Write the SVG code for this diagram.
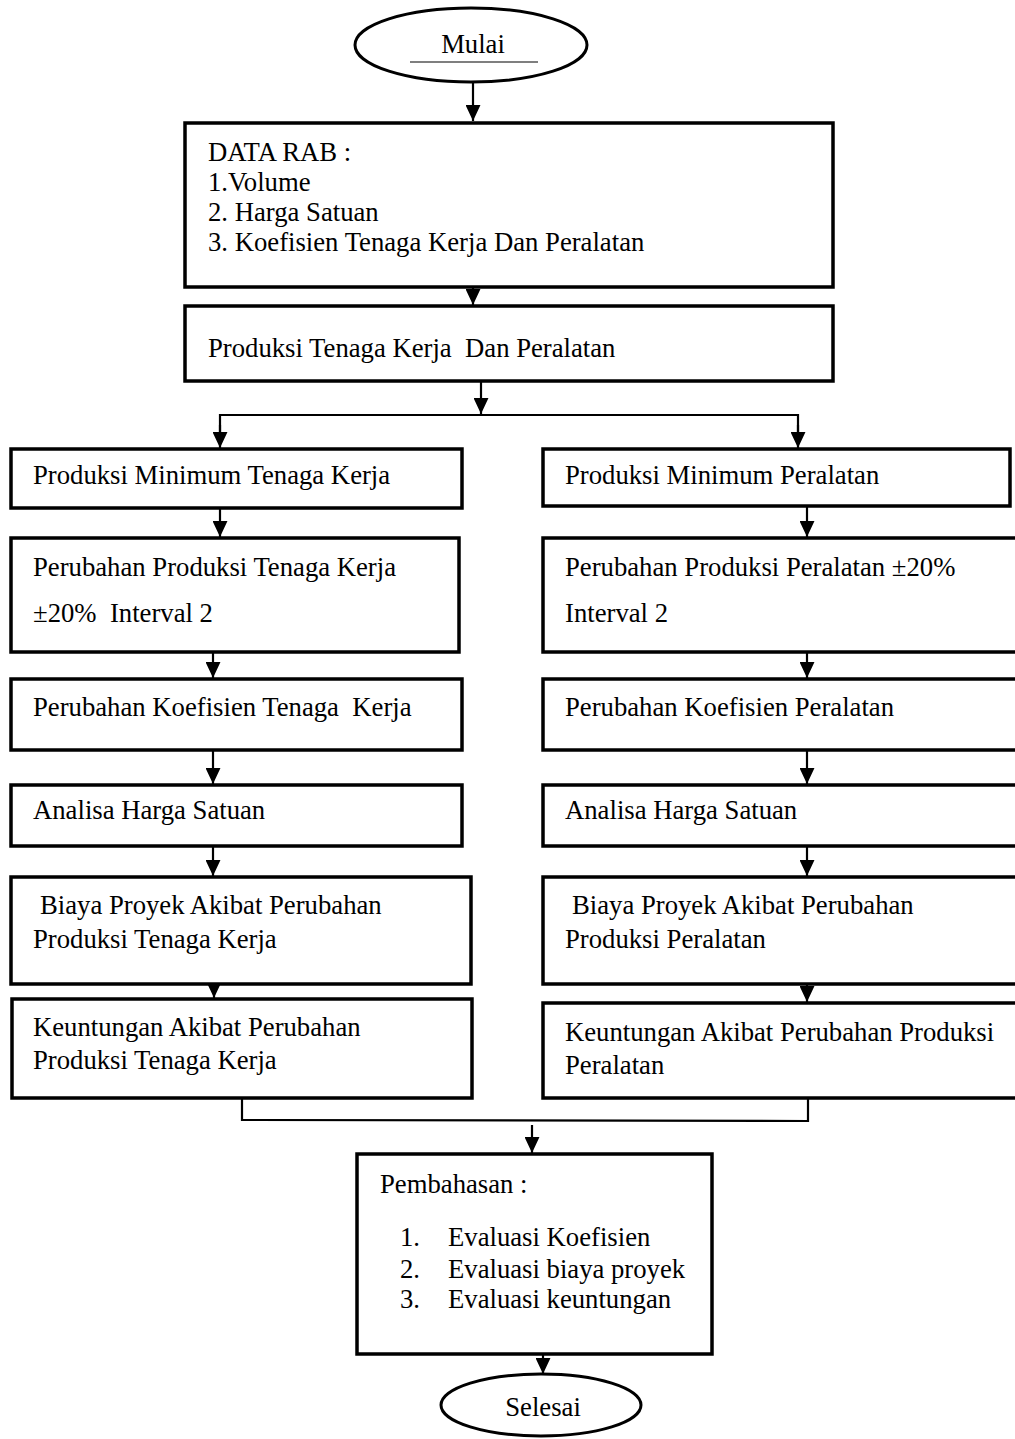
<svg xmlns="http://www.w3.org/2000/svg" width="1015" height="1439" viewBox="0 0 1015 1439">
<defs>
<marker id="ah" markerUnits="userSpaceOnUse" markerWidth="16" markerHeight="15" viewBox="0 0 15 14" refX="15" refY="7" orient="auto">
<path d="M0,0 L15,7 L0,14 z" fill="#000"/>
</marker>
<style>
.box{fill:#fff;stroke:#000;stroke-width:3.5}
.el{fill:#fff;stroke:#000;stroke-width:3}
.t{font-family:"Liberation Serif","Times New Roman",serif;font-size:26.7px;fill:#000}
.c{fill:none;stroke:#000;stroke-width:2.2}
.a{fill:none;stroke:#000;stroke-width:2.2;marker-end:url(#ah)}
</style>
</defs>
<rect width="1015" height="1439" fill="#fff"/>

<g id="connectors">
<line class="a" x1="473" y1="82" x2="473" y2="121"/>
<line class="a" x1="473" y1="287" x2="473" y2="305"/>
<line class="a" x1="481" y1="381" x2="481" y2="414"/>
<polyline class="c" points="220,437 220,415 798,415 798,437"/>
<line class="a" x1="220" y1="425" x2="220" y2="448"/>
<line class="a" x1="798" y1="425" x2="798" y2="448"/>
<line class="a" x1="220" y1="508" x2="220" y2="537"/>
<line class="a" x1="807" y1="506" x2="807" y2="537"/>
<line class="a" x1="213" y1="652" x2="213" y2="678"/>
<line class="a" x1="807" y1="645" x2="807" y2="678"/>
<line class="a" x1="213" y1="750" x2="213" y2="784"/>
<line class="a" x1="807" y1="750" x2="807" y2="784"/>
<line class="a" x1="213" y1="846" x2="213" y2="876"/>
<line class="a" x1="807" y1="846" x2="807" y2="876"/>
<line class="a" x1="214" y1="970" x2="214" y2="998"/>
<line class="a" x1="807" y1="984" x2="807" y2="1002"/>
<polyline class="c" points="242,1098 242,1120 808,1121 808,1098"/>
<line class="a" x1="532" y1="1125" x2="532" y2="1153"/>
<line class="a" x1="543" y1="1354" x2="543" y2="1374"/>
</g>

<g id="mulai">
<ellipse class="el" cx="471" cy="45" rx="116" ry="37"/>
<text class="t" x="473" y="53" text-anchor="middle">Mulai</text>
<line x1="410" y1="62" x2="538" y2="62" stroke="#000" stroke-width="1.2"/>
</g>

<g id="data-rab">
<rect class="box" x="185" y="123" width="648" height="164"/>
<text class="t" x="208" y="161">DATA RAB :</text>
<text class="t" x="208" y="191">1.Volume</text>
<text class="t" x="208" y="221">2. Harga Satuan</text>
<text class="t" x="208" y="251">3. Koefisien Tenaga Kerja Dan Peralatan</text>
</g>

<g id="produksi">
<rect class="box" x="185" y="306" width="648" height="75"/>
<text class="t" x="208" y="357" xml:space="preserve">Produksi Tenaga Kerja  Dan Peralatan</text>
</g>

<g id="min-tk">
<rect class="box" x="11" y="449" width="451" height="59"/>
<text class="t" x="33" y="484">Produksi Minimum Tenaga Kerja</text>
</g>
<g id="min-pl">
<rect class="box" x="543" y="449" width="467" height="57"/>
<text class="t" x="565" y="484">Produksi Minimum Peralatan</text>
</g>

<g id="ubah-tk">
<rect class="box" x="11" y="538" width="448" height="114"/>
<text class="t" x="33" y="576">Perubahan Produksi Tenaga Kerja</text>
<text class="t" x="33" y="622" xml:space="preserve">±20%  Interval 2</text>
</g>
<g id="ubah-pl">
<rect class="box" x="543" y="538" width="480" height="114"/>
<text class="t" x="565" y="576">Perubahan Produksi Peralatan ±20%</text>
<text class="t" x="565" y="622">Interval 2</text>
</g>

<g id="koef-tk">
<rect class="box" x="11" y="679" width="451" height="71"/>
<text class="t" x="33" y="716" xml:space="preserve">Perubahan Koefisien Tenaga  Kerja</text>
</g>
<g id="koef-pl">
<rect class="box" x="543" y="679" width="480" height="71"/>
<text class="t" x="565" y="716">Perubahan Koefisien Peralatan</text>
</g>

<g id="ahs-tk">
<rect class="box" x="11" y="785" width="451" height="61"/>
<text class="t" x="33" y="819">Analisa Harga Satuan</text>
</g>
<g id="ahs-pl">
<rect class="box" x="543" y="785" width="480" height="61"/>
<text class="t" x="565" y="819">Analisa Harga Satuan</text>
</g>

<g id="biaya-tk">
<rect class="box" x="11" y="877" width="460" height="107"/>
<text class="t" x="40" y="914">Biaya Proyek Akibat Perubahan</text>
<text class="t" x="33" y="948">Produksi Tenaga Kerja</text>
</g>
<g id="biaya-pl">
<rect class="box" x="543" y="877" width="480" height="107"/>
<text class="t" x="572" y="914">Biaya Proyek Akibat Perubahan</text>
<text class="t" x="565" y="948">Produksi Peralatan</text>
</g>

<g id="untung-tk">
<rect class="box" x="12" y="999" width="460" height="99"/>
<text class="t" x="33" y="1036">Keuntungan Akibat Perubahan</text>
<text class="t" x="33" y="1069">Produksi Tenaga Kerja</text>
</g>
<g id="untung-pl">
<rect class="box" x="543" y="1003" width="480" height="95"/>
<text class="t" x="565" y="1041">Keuntungan Akibat Perubahan Produksi</text>
<text class="t" x="565" y="1074">Peralatan</text>
</g>

<g id="pembahasan">
<rect class="box" x="357" y="1154" width="355" height="200"/>
<text class="t" x="380" y="1193">Pembahasan :</text>
<text class="t" x="400" y="1246">1.</text>
<text class="t" x="448" y="1246">Evaluasi Koefisien</text>
<text class="t" x="400" y="1278">2.</text>
<text class="t" x="448" y="1278">Evaluasi biaya proyek</text>
<text class="t" x="400" y="1308">3.</text>
<text class="t" x="448" y="1308">Evaluasi keuntungan</text>
</g>

<g id="selesai">
<ellipse class="el" cx="541" cy="1405" rx="100" ry="31"/>
<text class="t" x="543" y="1416" text-anchor="middle">Selesai</text>
</g>
</svg>
